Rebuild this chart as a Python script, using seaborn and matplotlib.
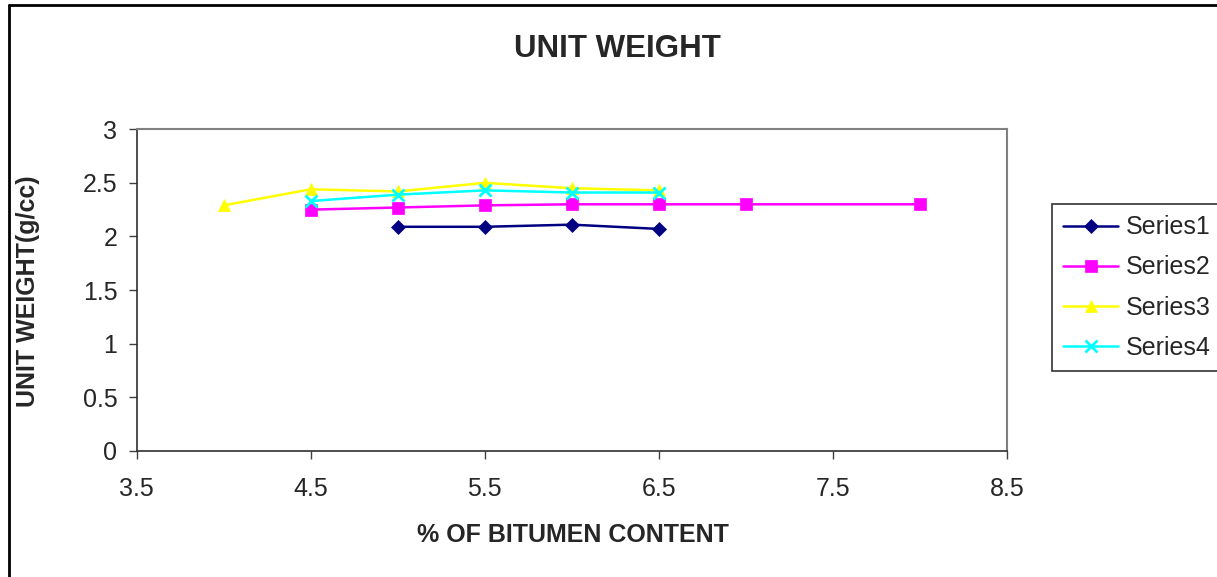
import matplotlib
matplotlib.use("Agg")
import matplotlib.pyplot as plt
import seaborn as sns
import pandas as pd
from matplotlib.lines import Line2D
from matplotlib.ticker import FuncFormatter

sns.set_style("white")
plt.rcParams['font.family'] = ['Liberation Sans', 'DejaVu Sans']

# Data
series1_x = [5.0, 5.5, 6.0, 6.5]
series1_y = [2.09, 2.09, 2.11, 2.07]
series2_x = [4.5, 5.0, 5.5, 6.0, 6.5, 7.0, 8.0]
series2_y = [2.25, 2.27, 2.29, 2.30, 2.30, 2.30, 2.30]
series3_x = [4.0, 4.5, 5.0, 5.5, 6.0, 6.5]
series3_y = [2.29, 2.44, 2.42, 2.50, 2.45, 2.43]
series4_x = [4.5, 5.0, 5.5, 6.0, 6.5]
series4_y = [2.33, 2.39, 2.43, 2.41, 2.41]
series_names = ["Series1", "Series2", "Series3", "Series4"]
x_ticks = [3.5, 4.5, 5.5, 6.5, 7.5, 8.5]
y_ticks = [0, 0.5, 1, 1.5, 2, 2.5, 3]

frames = []
for name, xs, ys in zip(series_names,
                        [series1_x, series2_x, series3_x, series4_x],
                        [series1_y, series2_y, series3_y, series4_y]):
    frames.append(pd.DataFrame({"x": xs, "y": ys, "series": name}))
df = pd.concat(frames, ignore_index=True)

colors = {"Series1": "#000080", "Series2": "#FF00FF", "Series3": "#FFFF00", "Series4": "#00FFFF"}
markers = {"Series1": "D", "Series2": "s", "Series3": "^", "Series4": "x"}
msizes = {"Series1": 7, "Series2": 8, "Series3": 9, "Series4": 9}

fig = plt.figure(figsize=(12.17, 5.77), dpi=100)
ax = fig.add_axes([136.7 / 1217, (577 - 450.7) / 577, (1007 - 136.7) / 1217, (450.7 - 129.3) / 577])

for name in series_names:
    sub = df[df["series"] == name]
    sns.lineplot(data=sub, x="x", y="y", ax=ax, color=colors[name], marker=markers[name],
                 markersize=msizes[name], markeredgecolor=colors[name],
                 markeredgewidth=2 if name == "Series4" else 0.5,
                 linewidth=1.8, sort=False, legend=False, errorbar=None)

ax.set_xlim(3.5, 8.5)
ax.set_ylim(0, 3)
ax.set_xticks(x_ticks)
ax.set_yticks(y_ticks)
fmt = FuncFormatter(lambda v, p: "%g" % v)
ax.xaxis.set_major_formatter(fmt)
ax.yaxis.set_major_formatter(fmt)
ax.tick_params(axis="both", which="major", direction="out", length=6, width=1,
               color="#404040", labelsize=18, left=True, bottom=True)
ax.tick_params(axis="x", pad=13)
ax.tick_params(axis="y", pad=8)
ax.set_xlabel("")
ax.set_ylabel("")
ax.grid(False)
for s in ["left", "bottom"]:
    ax.spines[s].set_color("#303030")
    ax.spines[s].set_linewidth(1.2)
for s in ["top", "right"]:
    ax.spines[s].set_color("#808080")
    ax.spines[s].set_linewidth(1.5)

fig.text(617 / 1217, 1 - 49 / 577, "UNIT WEIGHT", ha="center", va="center",
         fontsize=22.5, fontweight="bold")
fig.text(573 / 1217, 1 - 535 / 577, "% OF BITUMEN CONTENT", ha="center", va="center",
         fontsize=18, fontweight="bold")
fig.text(28 / 1217, 1 - 291 / 577, "UNIT WEIGHT(g/cc)", ha="center", va="center",
         fontsize=18, fontweight="bold", rotation=90)

handles = [Line2D([0], [0], color=colors[n], marker=markers[n], markersize=msizes[n],
                  markeredgecolor=colors[n], markeredgewidth=2 if n == "Series4" else 0.5,
                  linewidth=1.8) for n in series_names]
leg = fig.legend(handles, series_names, loc="upper left",
                 bbox_to_anchor=(1052 / 1217, 1 - 204 / 577), bbox_transform=fig.transFigure,
                 fontsize=18, frameon=True, fancybox=False, handlelength=2.2,
                 labelspacing=0.65, handletextpad=0.3, borderpad=0.45, borderaxespad=0)
leg.get_frame().set_edgecolor("#000000")
leg.get_frame().set_linewidth(1.2)

# outer chart border (left and top visible)
fig.add_artist(Line2D([9 / 1217, 9 / 1217], [0, 1 - 5 / 577], color="black", linewidth=2,
                      transform=fig.transFigure))
fig.add_artist(Line2D([9 / 1217, 1], [1 - 5 / 577, 1 - 5 / 577], color="black", linewidth=2,
                      transform=fig.transFigure))

fig.savefig("out.png", dpi=100)
